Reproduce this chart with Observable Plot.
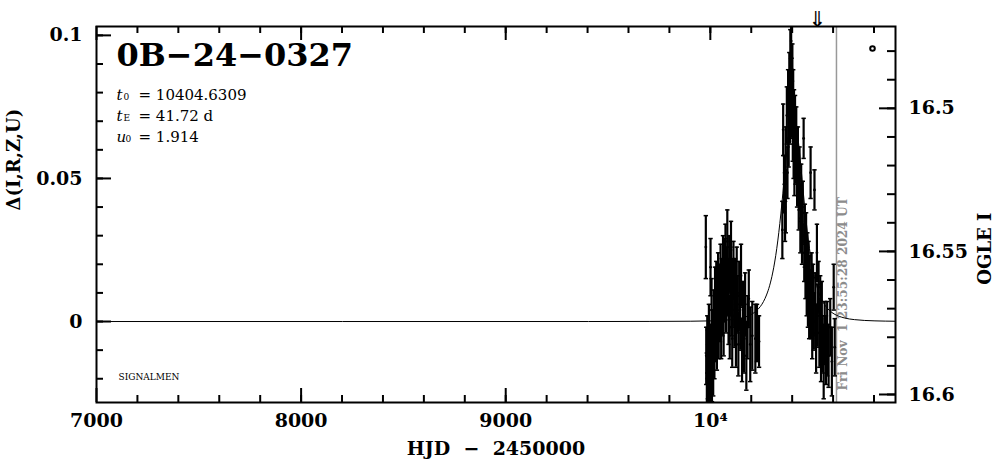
<!DOCTYPE html>
<html><head><meta charset="utf-8">
<script src="https://cdn.jsdelivr.net/npm/d3@7"></script>
<script src="https://cdn.jsdelivr.net/npm/@observablehq/plot@0.6"></script>
<style>html,body{margin:0;padding:0;background:#fff;}</style>
</head><body><div id="chart"></div>
<script>
// ---- data ----
const eventName = "0B\u221224\u22120327";
const paramSymbols = ["t", "t", "u"];
const paramSubs = ["0", "E", "0"];
const paramValues = ["= 10404.6309", "= 41.72 d", "= 1.914"];
const nowHJD = 10616.5;
const nowLabel = "Fri Nov \u00a01 23:55:28 2024 UT";
const arrowHJD = 10524;
const iZero = 16.5745; // OGLE I magnitude at delta = 0

// season 2023: [HJD-2450000, delta, error]
const season2023 = [
  [9978, 0.026, 0.011], [9980, -0.012, 0.010], [9983, -0.020, 0.009], [9985, -0.008, 0.010],
  [9988, -0.015, 0.012], [9990, -0.022, 0.009], [9993, -0.005, 0.011], [9996, -0.018, 0.010],
  [9998, -0.010, 0.009], [10001, 0.019, 0.010], [10003, -0.014, 0.010], [10006, 0.004, 0.011],
  [10008, -0.020, 0.008], [10011, -0.006, 0.010], [10014, -0.016, 0.010], [10017, 0.002, 0.009],
  [10020, -0.010, 0.010], [10023, 0.008, 0.011], [10026, -0.004, 0.010], [10029, 0.010, 0.011],
  [10032, -0.008, 0.009], [10035, 0.006, 0.012], [10038, 0.014, 0.010], [10041, -0.002, 0.011],
  [10044, 0.010, 0.010], [10047, 0.003, 0.010], [10050, 0.016, 0.011], [10053, -0.004, 0.009],
  [10056, 0.012, 0.010], [10059, 0.006, 0.011], [10062, 0.020, 0.010], [10065, 0.000, 0.012],
  [10068, 0.010, 0.010], [10071, 0.018, 0.011], [10074, 0.024, 0.010], [10077, 0.008, 0.012],
  [10080, 0.016, 0.010], [10083, 0.028, 0.011], [10086, 0.012, 0.010], [10089, 0.004, 0.012],
  [10092, 0.020, 0.010], [10095, -0.002, 0.011], [10098, 0.014, 0.012], [10101, 0.025, 0.010],
  [10104, 0.006, 0.011], [10107, -0.006, 0.010], [10110, 0.010, 0.012], [10113, 0.018, 0.010],
  [10117, 0.002, 0.011], [10121, 0.012, 0.010], [10125, -0.004, 0.012], [10129, 0.015, 0.011],
  [10133, 0.006, 0.010], [10137, -0.008, 0.011], [10141, 0.009, 0.012], [10146, 0.000, 0.010],
  [10150, 0.016, 0.011], [10155, -0.010, 0.011], [10160, 0.004, 0.010], [10165, -0.006, 0.012],
  [10170, 0.006, 0.011], [10176, -0.012, 0.012], [10182, -0.002, 0.011], [10188, 0.008, 0.010],
  [10195, -0.008, 0.013], [10205, -0.005, 0.012], [10220, -0.006, 0.012], [10228, -0.004, 0.010],
  [10238, -0.007, 0.009]
];
// season 2024
const season2024 = [
  [10352, 0.032, 0.010], [10356, 0.067, 0.009], [10360, 0.048, 0.010], [10365, 0.040, 0.012],
  [10368, 0.058, 0.010], [10369, 0.042, 0.011], [10374, 0.072, 0.010], [10377, 0.052, 0.009],
  [10380, 0.080, 0.008], [10383, 0.064, 0.010], [10386, 0.085, 0.009], [10389, 0.070, 0.008],
  [10391, 0.092, 0.010], [10393, 0.078, 0.009], [10395, 0.098, 0.011], [10397, 0.084, 0.008],
  [10399, 0.074, 0.010], [10401, 0.088, 0.009], [10403, 0.066, 0.010], [10405, 0.080, 0.008],
  [10407, 0.060, 0.010], [10409, 0.072, 0.009], [10411, 0.054, 0.010], [10414, 0.068, 0.011],
  [10417, 0.058, 0.010], [10420, 0.066, 0.009], [10424, 0.050, 0.010], [10428, 0.056, 0.012],
  [10432, 0.042, 0.010], [10436, 0.050, 0.011], [10440, 0.036, 0.012], [10444, 0.045, 0.010],
  [10448, 0.030, 0.010], [10452, 0.038, 0.011], [10456, 0.064, 0.007], [10459, 0.024, 0.010],
  [10462, 0.030, 0.011], [10465, 0.018, 0.010], [10468, 0.026, 0.012], [10471, 0.012, 0.010],
  [10474, 0.020, 0.011], [10477, 0.008, 0.010], [10480, 0.016, 0.012], [10483, 0.004, 0.010],
  [10486, 0.012, 0.011], [10490, 0.052, 0.009], [10492, 0.006, 0.012], [10495, 0.014, 0.010],
  [10498, -0.002, 0.011], [10502, 0.008, 0.012], [10506, 0.000, 0.010], [10509, 0.046, 0.007],
  [10513, 0.006, 0.011], [10517, -0.006, 0.012], [10521, 0.024, 0.010], [10525, 0.002, 0.011],
  [10529, 0.012, 0.009], [10533, -0.004, 0.012], [10537, 0.006, 0.010], [10541, -0.010, 0.011],
  [10545, 0.002, 0.012], [10549, -0.008, 0.010], [10554, -0.014, 0.013], [10559, -0.004, 0.011],
  [10565, -0.010, 0.012], [10571, -0.006, 0.013], [10578, -0.012, 0.011], [10586, -0.002, 0.010],
  [10594, -0.014, 0.012], [10603, 0.012, 0.008], [10608, -0.009, 0.010]
];
// model curve
const modelHJD = [7000, 9404.6, 9704.6, 9904.6, 10004.6, 10104.6, 10154.6, 10204.6, 10224.6, 10244.6,
  10259.6, 10274.6, 10289.6, 10304.6, 10314.6, 10324.6, 10334.6, 10344.6, 10354.6, 10364.6,
  10374.6, 10384.6, 10394.6, 10404.6, 10414.6, 10424.6, 10434.6, 10444.6, 10454.6, 10464.6,
  10474.6, 10484.6, 10494.6, 10504.6, 10519.6, 10534.6, 10549.6, 10564.6, 10584.6, 10604.6,
  10654.6, 10704.6, 10804.6, 10904.6];
const modelDelta = [0, 0, 0.00003, 0.0001, 0.00023, 0.00066, 0.00126, 0.00266, 0.0037, 0.00525,
  0.00694, 0.00927, 0.01249, 0.01694, 0.02079, 0.02547, 0.03108, 0.0376, 0.04488, 0.05258,
  0.06006, 0.06641, 0.07074, 0.07231, 0.07074, 0.06641, 0.06006, 0.05258, 0.04488, 0.0376,
  0.03108, 0.02547, 0.02079, 0.01694, 0.01249, 0.00927, 0.00694, 0.00525, 0.0037, 0.00266,
  0.00126, 0.00066, 0.00023, 0.0001];

// ticks
const xMajor = [7000, 8000, 9000, 10000];
const xLabels = ["7000", "8000", "9000", "10\u2074"];
const yMajor = [0, 0.05, 0.1];
const yLabels = ["0", "0.05", "0.1"];
const iMajor = [16.5, 16.55, 16.6];
const iLabels = ["16.5", "16.55", "16.6"];

// ---- build ----
const obs = [...season2023, ...season2024].map(([hjd, delta, err]) => ({hjd, delta, err}));
const model = modelHJD.map((h, i) => ({hjd: h, delta: modelDelta[i]}));
const xMinor = d3.range(7200, 10905, 200);
const yMinor = d3.range(-2, 11).map(k => k / 100);
const iMinor = d3.range(1648, 1661).map(k => k / 100);

const W = 999, H = 459, mL = 96, mR = 104, mT = 26, mB = 57;
const fw = W - mL - mR, fh = H - mT - mB;
const serif = "DejaVu Serif";

const capSymbol = {draw(ctx, size) { const r = Math.sqrt(size / Math.PI); ctx.moveTo(-r, 0); ctx.lineTo(r, 0); }};

const subOffsets = [27, 27, 29];
const paramMarks = [];
paramSymbols.forEach((s, i) => {
  const dy = 63 + i * 21;
  paramMarks.push(Plot.text([s], {frameAnchor: "top-left", textAnchor: "start", dx: 20, dy, fontSize: 15, fontStyle: "italic", fontFamily: serif}));
  paramMarks.push(Plot.text([paramSubs[i]], {frameAnchor: "top-left", textAnchor: "start", dx: subOffsets[i], dy: dy + 4, fontSize: 9, fontFamily: serif}));
  paramMarks.push(Plot.text([paramValues[i]], {frameAnchor: "top-left", textAnchor: "start", dx: 42, dy, fontSize: 15, fontFamily: serif}));
});

const chart = Plot.plot({
  width: W, height: H, marginLeft: mL, marginRight: mR, marginTop: mT, marginBottom: mB,
  x: {domain: [7000, 10905], axis: null},
  y: {domain: [-0.0283, 0.1031], axis: null},
  style: {fontFamily: serif, background: "white", color: "black", overflow: "visible"},
  marks: [
    // current date line
    Plot.ruleX([nowHJD], {stroke: "#999", strokeWidth: 1.5}),
    Plot.text([nowLabel], {x: () => nowHJD, frameAnchor: "bottom", rotate: -90, textAnchor: "start", dx: 11, dy: -12, fill: "#8c8c8c", fontWeight: "bold", fontSize: 12.2, fontFamily: serif}),
    // model
    Plot.line(model, {x: "hjd", y: "delta", stroke: "black", strokeWidth: 1, curve: "monotone-x", clip: true}),
    // error bars
    Plot.ruleX(obs, {x: "hjd", y1: d => d.delta - d.err, y2: d => d.delta + d.err, stroke: "black", strokeWidth: 2.2, clip: true}),
    Plot.dot(obs, {x: "hjd", y: d => d.delta - d.err, symbol: capSymbol, r: 2.2, stroke: "black", strokeWidth: 1.5, clip: true}),
    Plot.dot(obs, {x: "hjd", y: d => d.delta + d.err, symbol: capSymbol, r: 2.2, stroke: "black", strokeWidth: 1.5, clip: true}),
    Plot.dot(obs, {x: "hjd", y: "delta", r: 1.4, fill: "black", clip: true}),
    // frame & ticks
    Plot.frame({stroke: "black", strokeWidth: 2}),
    Plot.ruleX(xMinor, {insetTop: fh - 7, strokeWidth: 2}),
    Plot.ruleX(xMinor, {insetBottom: fh - 7, strokeWidth: 2}),
    Plot.ruleX(xMajor, {insetTop: fh - 14, strokeWidth: 2}),
    Plot.ruleX(xMajor, {insetBottom: fh - 14, strokeWidth: 2}),
    Plot.ruleY(yMinor, {insetRight: fw - 7, strokeWidth: 2}),
    Plot.ruleY(yMajor, {insetRight: fw - 15, strokeWidth: 2}),
    Plot.ruleY(iMinor, {y: d => iZero - d, insetLeft: fw - 8, strokeWidth: 2}),
    Plot.ruleY(iMajor, {y: d => iZero - d, insetLeft: fw - 16, strokeWidth: 2}),
    // tick labels
    Plot.text(xMajor, {x: d => d, text: (d, i) => xLabels[i], frameAnchor: "bottom", lineAnchor: "top", dy: 11, fontSize: 19, fontWeight: "bold", fontFamily: serif}),
    Plot.text(yMajor, {y: d => d, text: (d, i) => yLabels[i], frameAnchor: "left", textAnchor: "end", dx: -14, fontSize: 19, fontWeight: "bold", fontFamily: serif}),
    Plot.text(iMajor, {y: d => iZero - d, text: (d, i) => iLabels[i], frameAnchor: "right", textAnchor: "start", dx: 13, fontSize: 19, fontWeight: "bold", fontFamily: serif}),
    // axis titles
    Plot.text(["HJD\u00a0\u00a0\u2212\u00a0\u00a02450000"], {frameAnchor: "bottom", lineAnchor: "middle", dy: 46, fontSize: 19, fontWeight: "bold", fontFamily: serif}),
    Plot.text(["\u0394(I,R,Z,U)"], {frameAnchor: "left", dx: -82, dy: -4, rotate: -90, fontSize: 18, fontWeight: "bold", fontFamily: serif}),
    Plot.text(["OGLE I"], {frameAnchor: "right", dx: 90, dy: -2, rotate: -90, fontSize: 18, fontWeight: "bold", fontFamily: serif}),
    // annotations
    Plot.text([eventName], {frameAnchor: "top-left", textAnchor: "start", lineAnchor: "top", dx: 20, dy: 17, fontSize: 32, fontWeight: "bold", fontFamily: serif}),
    ...paramMarks,
    Plot.text(["SIGNALMEN"], {frameAnchor: "bottom-left", textAnchor: "start", dx: 22, dy: -23, fontSize: 9, fontFamily: serif}),
    Plot.dot([0], {frameAnchor: "top-right", dx: -23, dy: 22, r: 2.3, stroke: "black", strokeWidth: 2, fill: "white"}),
    Plot.text(["\u21d3"], {x: () => arrowHJD, frameAnchor: "top", dy: -15, fontSize: 22, fontFamily: "DejaVu Sans"})
  ]
});
document.getElementById("chart").appendChild(chart);
</script></body></html>
